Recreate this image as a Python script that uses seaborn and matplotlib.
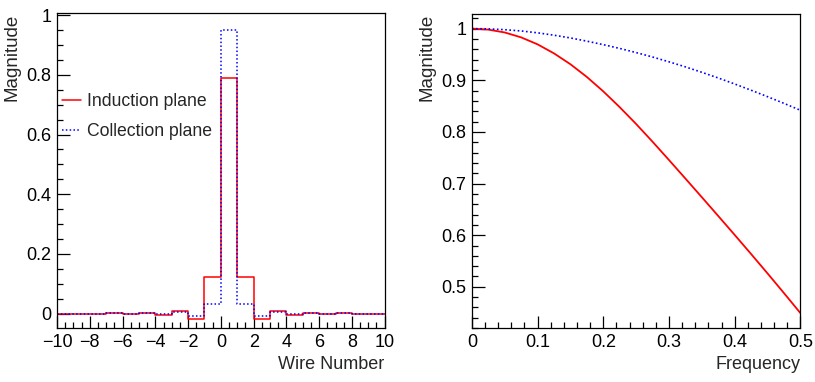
import pandas as pd
import seaborn as sns
import matplotlib.pyplot as plt
from matplotlib.ticker import MultipleLocator

# left panel: wire response, bins [i, i+1) for i = -10 .. 9
wire_edges = list(range(-10, 11))
induction = [0.0, 0.0, -0.001, 0.001, -0.002, 0.003, -0.004, 0.008, -0.02, 0.121,
             0.79, 0.121, -0.02, 0.008, -0.004, 0.003, -0.002, 0.001, -0.001, 0.0]
collection = [0.0, 0.0, 0.0, 0.001, -0.001, 0.002, -0.003, 0.006, -0.008, 0.031,
              0.95, 0.031, -0.008, 0.006, -0.003, 0.002, -0.001, 0.001, 0.0, 0.0]

# right panel: magnitude vs frequency
freq = [0.0, 0.025, 0.05, 0.075, 0.1, 0.125, 0.15, 0.175, 0.2, 0.225, 0.25,
        0.275, 0.3, 0.325, 0.35, 0.375, 0.4, 0.425, 0.45, 0.475, 0.5]
induction_mag = [1.0, 0.998, 0.9925, 0.983, 0.9695, 0.952, 0.931, 0.9064, 0.8785, 0.8479, 0.8153,
                 0.781, 0.7456, 0.7097, 0.6736, 0.6372, 0.6006, 0.5636, 0.5261, 0.488, 0.4493]
collection_mag = [1.0, 0.9995, 0.9979, 0.9954, 0.9918, 0.9872, 0.9819, 0.9757, 0.9689, 0.9616, 0.9536,
                  0.945, 0.9357, 0.9259, 0.9154, 0.9044, 0.8928, 0.8807, 0.8682, 0.8553, 0.8419]

sns.set_style("ticks")
plt.rcParams['font.family'] = ['Liberation Sans', 'DejaVu Sans']
plt.rcParams['axes.linewidth'] = 0.9

wire_df = pd.DataFrame({
    "wire": wire_edges,
    "induction": induction + [induction[-1]],
    "collection": collection + [collection[-1]],
})
freq_df = pd.DataFrame({"freq": freq, "induction": induction_mag, "collection": collection_mag})

fig = plt.figure(figsize=(8.15, 3.82), dpi=100)
ax1 = fig.add_axes([0.070, 0.141, 0.402, 0.824])
ax2 = fig.add_axes([0.579, 0.141, 0.403, 0.822])

sns.lineplot(data=wire_df, x="wire", y="induction", drawstyle="steps-post",
             color="red", lw=1.1, label="Induction plane", ax=ax1)
sns.lineplot(data=wire_df, x="wire", y="collection", drawstyle="steps-post",
             color="blue", lw=1.1, ls=(0, (1, 1.5)), label="Collection plane", ax=ax1)

sns.lineplot(data=freq_df, x="freq", y="induction", color="red", lw=1.3, ax=ax2)
sns.lineplot(data=freq_df, x="freq", y="collection", color="blue", lw=1.2,
             ls=(0, (1, 1.5)), ax=ax2)

ax1.set_xlim(-10, 10)
ax1.set_ylim(-0.049, 1.006)
ax1.xaxis.set_major_locator(MultipleLocator(2))
ax1.xaxis.set_minor_locator(MultipleLocator(0.5))
ax1.yaxis.set_major_locator(MultipleLocator(0.2))
ax1.yaxis.set_minor_locator(MultipleLocator(0.05))
ax1.set_yticks([0, 0.2, 0.4, 0.6, 0.8, 1.0], ["0", "0.2", "0.4", "0.6", "0.8", "1"])

ax2.set_xlim(0, 0.5)
ax2.set_ylim(0.42, 1.028)
ax2.xaxis.set_major_locator(MultipleLocator(0.1))
ax2.xaxis.set_minor_locator(MultipleLocator(0.02))
ax2.yaxis.set_major_locator(MultipleLocator(0.1))
ax2.yaxis.set_minor_locator(MultipleLocator(0.02))
ax2.set_xticks([0, 0.1, 0.2, 0.3, 0.4, 0.5], ["0", "0.1", "0.2", "0.3", "0.4", "0.5"])
ax2.set_yticks([0.5, 0.6, 0.7, 0.8, 0.9, 1.0], ["0.5", "0.6", "0.7", "0.8", "0.9", "1"])

for ax in (ax1, ax2):
    for s in ax.spines.values():
        s.set_visible(True)
        s.set_color("black")
    ax.tick_params(which="both", direction="in", top=False, right=False,
                   labelsize=13, colors="black", pad=4)
    ax.tick_params(which="major", length=9, width=0.9)
    ax.tick_params(which="minor", length=4.5, width=0.9)
    ax.set_ylabel("Magnitude", loc="top", fontsize=13.5, labelpad=4)

ax1.set_xlabel("Wire Number", loc="right", fontsize=13, labelpad=4)
ax2.set_xlabel("Frequency", loc="right", fontsize=13, labelpad=4)

ax1.legend(loc="upper left", bbox_to_anchor=(-0.023, 0.785), frameon=False, fontsize=12.7,
           handlelength=1.1, handletextpad=0.3, labelspacing=0.7, borderaxespad=0.3)

fig.savefig("out.png", dpi=100)
